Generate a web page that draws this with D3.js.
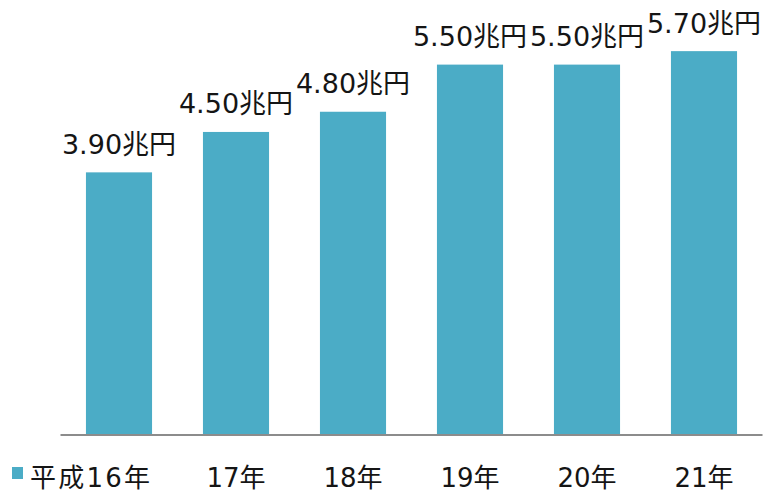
<!DOCTYPE html>
<html>
<head>
<meta charset="utf-8">
<script src="https://cdn.jsdelivr.net/npm/d3@7"></script>
<style>
  html, body { margin: 0; padding: 0; background: #fff; }
  svg { display: block; }
  text { font-family: "DejaVu Sans", "Noto Sans CJK JP", sans-serif; fill: #151515; }
</style>
</head>
<body>
<svg id="chart" width="767" height="492"></svg>
<script>
// Annual amounts (兆円), fiscal years 平成16〜21年
const categories = ["平成16年", "17年", "18年", "19年", "20年", "21年"];
const values = [3.90, 4.50, 4.80, 5.50, 5.50, 5.70];
const valueLabels = ["3.90兆円", "4.50兆円", "4.80兆円", "5.50兆円", "5.50兆円", "5.70兆円"];

const svg = d3.select("#chart");
const barColor = "#4BACC6";

const x = d3.scaleBand()
  .domain(categories)
  .range([60.5, 762.5])
  .paddingInner(0.435)
  .paddingOuter(0.2175);

const y = d3.scaleLinear()
  .domain([0, 6.4])
  .range([435, 4]);

// bars
svg.append("g")
  .selectAll("rect")
  .data(values)
  .join("rect")
  .attr("x", (d, i) => x(categories[i]))
  .attr("y", d => y(d))
  .attr("width", x.bandwidth())
  .attr("height", d => y(0) - y(d))
  .attr("fill", barColor);

// value labels above bars
svg.append("g")
  .selectAll("text")
  .data(values)
  .join("text")
  .attr("x", (d, i) => x(categories[i]) + x.bandwidth() / 2)
  .attr("y", d => y(d) - 18.5)
  .attr("text-anchor", "middle")
  .attr("font-size", 27)
  .text((d, i) => valueLabels[i]);

// baseline axis
const xAxis = d3.axisBottom(x).tickSize(0).tickPadding(0);
const axisG = svg.append("g")
  .attr("transform", `translate(0,${y(0)})`)
  .call(xAxis);
axisG.attr("font-family", null).attr("font-size", null);
axisG.select(".domain")
  .attr("d", `M60.5,0H762.5`)
  .attr("stroke", "#8c8c8c")
  .attr("stroke-width", 2);

const markerX = 12, markerW = 11;
axisG.selectAll(".tick text")
  .attr("y", 52)
  .attr("dy", null)
  .attr("font-size", 26)
  .attr("fill", "#151515")
  .each(function (d, i) {
    if (i === 0) {
      // first label sits right of the series marker
      const center = x(d) + x.bandwidth() / 2;
      d3.select(this)
        .attr("text-anchor", "start")
        .attr("x", markerX + markerW + 7 - center)
        .attr("textLength", 120)
        .attr("lengthAdjust", "spacing");
    }
  });

// series marker next to first category label
svg.append("rect")
  .attr("x", markerX)
  .attr("y", 467)
  .attr("width", markerW)
  .attr("height", 12)
  .attr("fill", barColor);
</script>
</body>
</html>
